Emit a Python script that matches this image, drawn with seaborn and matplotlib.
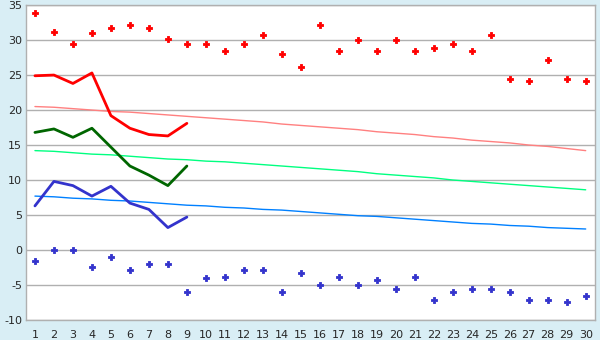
import matplotlib
matplotlib.use("Agg")
import matplotlib.pyplot as plt
import seaborn as sns
import pandas as pd

days = list(range(1, 31))
max_temp = [33.8, 31.1, 29.4, 31.0, 31.7, 32.2, 31.7, 30.1, 29.4, 29.4,
            28.4, 29.4, 30.7, 28.0, 26.2, 32.2, 28.5, 30.0, 28.4, 30.0,
            28.4, 28.9, 29.4, 28.4, 30.7, 24.4, 24.1, 27.2, 24.5, 24.1]
min_temp = [-1.6, 0.0, 0.0, -2.5, -1.0, -2.8, -2.0, -2.0, -6.0, -4.0,
            -3.9, -2.8, -2.8, -6.0, -3.3, -5.0, -3.9, -5.0, -4.3, -5.6,
            -3.9, -7.2, -6.0, -5.6, -5.6, -6.0, -7.2, -7.2, -7.5, -6.6]
obs_days = list(range(1, 10))
obs_high = [24.9, 25.0, 23.8, 25.3, 19.2, 17.4, 16.5, 16.3, 18.1]
obs_mean = [16.8, 17.3, 16.1, 17.4, 14.7, 12.0, 10.7, 9.2, 12.0]
obs_low = [6.3, 9.8, 9.2, 7.7, 9.1, 6.7, 5.8, 3.2, 4.7]
norm_high = [20.5, 20.4, 20.2, 20.0, 19.8, 19.7, 19.5, 19.3, 19.1, 18.9,
             18.7, 18.5, 18.3, 18.0, 17.8, 17.6, 17.4, 17.2, 16.9, 16.7,
             16.5, 16.2, 16.0, 15.7, 15.5, 15.3, 15.0, 14.8, 14.5, 14.2]
norm_mean = [14.2, 14.1, 13.9, 13.7, 13.6, 13.4, 13.2, 13.0, 12.9, 12.7,
             12.6, 12.4, 12.2, 12.0, 11.8, 11.6, 11.4, 11.2, 10.9, 10.7,
             10.5, 10.3, 10.0, 9.8, 9.6, 9.4, 9.2, 9.0, 8.8, 8.6]
norm_low = [7.7, 7.6, 7.4, 7.3, 7.1, 7.0, 6.8, 6.6, 6.4, 6.3,
            6.1, 6.0, 5.8, 5.7, 5.5, 5.3, 5.1, 4.9, 4.8, 4.6,
            4.4, 4.2, 4.0, 3.8, 3.7, 3.5, 3.4, 3.2, 3.1, 3.0]
y_ticks = [-10, -5, 0, 5, 10, 15, 20, 25, 30, 35]

sns.set_style("white")
plt.rcParams['font.family'] = ['DejaVu Sans']

fig = plt.figure(figsize=(6, 3.4), dpi=100, facecolor="#d9eef5")
ax = fig.add_axes([0.044, 0.059, 0.948, 0.926])
ax.set_facecolor("white")

for ys in y_ticks:
    ax.axhline(ys, color="#b0b0b0", lw=1.0, zorder=0)

sns.lineplot(x=days, y=norm_high, ax=ax, color="#ff8080", lw=1.0, zorder=2)
sns.lineplot(x=days, y=norm_mean, ax=ax, color="#00ff80", lw=1.0, zorder=2)
sns.lineplot(x=days, y=norm_low, ax=ax, color="#0080ff", lw=1.0, zorder=2)

sns.lineplot(x=obs_days, y=obs_high, ax=ax, color="#ff0000", lw=2.0, zorder=3)
sns.lineplot(x=obs_days, y=obs_mean, ax=ax, color="#006600", lw=2.0, zorder=3)
sns.lineplot(x=obs_days, y=obs_low, ax=ax, color="#3333cc", lw=2.0, zorder=3)

sns.scatterplot(x=days, y=max_temp, ax=ax, color="#ff0000", marker="P", s=22,
                linewidth=0.6, edgecolor="#ff0000", zorder=4)
sns.scatterplot(x=days, y=min_temp, ax=ax, color="#3333cc", marker="P", s=22,
                linewidth=0.6, edgecolor="#3333cc", zorder=4)

ax.set_xlim(0.55, 30.5)
ax.set_ylim(-10, 35)
ax.set_xticks(days)
ax.set_xticklabels([str(d) for d in days])
ax.set_yticks(y_ticks)
ax.set_yticklabels([str(v) for v in y_ticks])
ax.tick_params(axis="x", length=5, width=1, color="#b0b0b0", pad=2, labelsize=8)
ax.tick_params(axis="y", length=0, pad=3, labelsize=8)
for s in ax.spines.values():
    s.set_color("#b0b0b0")
    s.set_linewidth(1.0)
ax.set_xlabel("")
ax.set_ylabel("")

fig.savefig("out.png", dpi=100, facecolor=fig.get_facecolor())
